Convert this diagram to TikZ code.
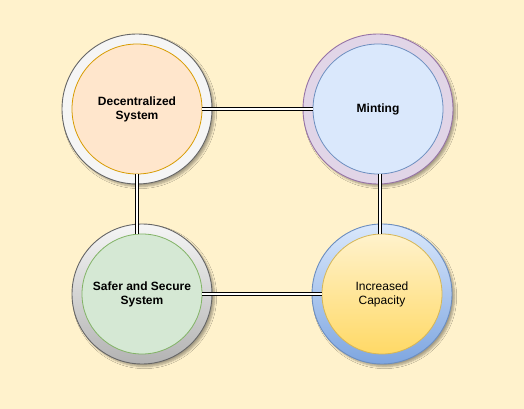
\documentclass[tikz,border=0pt]{standalone}
\usepackage{fontspec}
\setmainfont{Liberation Sans}
\usetikzlibrary{shadows.blur,calc}
\definecolor{bgc}{HTML}{FFF2CC}
\definecolor{gfill}{HTML}{F5F5F5}
\definecolor{gline}{HTML}{666666}
\definecolor{gdark}{HTML}{B3B3B3}
\definecolor{ofill}{HTML}{FFE6CC}
\definecolor{oline}{HTML}{D79B00}
\definecolor{pfill}{HTML}{E1D5E7}
\definecolor{pline}{HTML}{9673A6}
\definecolor{bfill}{HTML}{DAE8FC}
\definecolor{bline}{HTML}{6C8EBF}
\definecolor{bdark}{HTML}{7EA6E0}
\definecolor{grfill}{HTML}{D5E8D4}
\definecolor{grline}{HTML}{82B366}
\definecolor{yfill}{HTML}{FFF2CC}
\definecolor{ydark}{HTML}{FFD966}
\definecolor{yline}{HTML}{D6B656}
\begin{document}
\begin{tikzpicture}[x=1pt,y=-1pt,
  ring/.style={circle,inner sep=0pt,line width=0.9pt,
    blur shadow={shadow xshift=2.5pt,shadow yshift=-2.5pt,shadow blur steps=6,shadow opacity=35}},
  core/.style={circle,inner sep=0pt,line width=0.8pt,align=center,
    font=\fontsize{12}{14}\selectfont},
  link/.style={draw=black,line width=1pt,double=white,double distance=2pt}]
\fill[bgc] (0,0) rectangle (524,409);
\useasboundingbox (0,0) rectangle (524,409);
% outer rings
\node[ring,draw=gline,fill=gfill,minimum size=150pt] (o1) at (137,109) {};
\node[ring,draw=pline,fill=pfill,minimum size=150pt] (o2) at (378,109) {};
\node[ring,draw=gline,top color=gfill,bottom color=gdark,minimum size=140pt] (o3) at (142,294) {};
\node[ring,draw=bline,top color=bfill,bottom color=bdark,minimum size=140pt] (o4) at (382,294) {};
% inner circles
\node[core,draw=oline,fill=ofill,minimum size=130pt,font=\fontsize{12}{14}\selectfont\bfseries] (i1) at (o1) {Decentralized\\System};
\node[core,draw=bline,fill=bfill,minimum size=130pt,font=\fontsize{12}{14}\selectfont\bfseries] (i2) at (o2) {Minting};
\node[core,draw=grline,fill=grfill,minimum size=120pt,font=\fontsize{12}{14}\selectfont\bfseries] (i3) at (o3) {Safer and Secure\\System};
\node[core,draw=yline,top color=yfill,bottom color=ydark,minimum size=120pt] (i4) at (o4) {Increased\\Capacity};
% connectors
\coordinate (c24) at (380,200);
\draw[link] (i1) -- (i2);
\draw[link] (i3) -- (i4);
\draw[link] (i1.south) -- (i1.south |- i3.north);
\draw[link] (i2.south -| c24) -- (i4.north -| c24);
\end{tikzpicture}
\end{document}
